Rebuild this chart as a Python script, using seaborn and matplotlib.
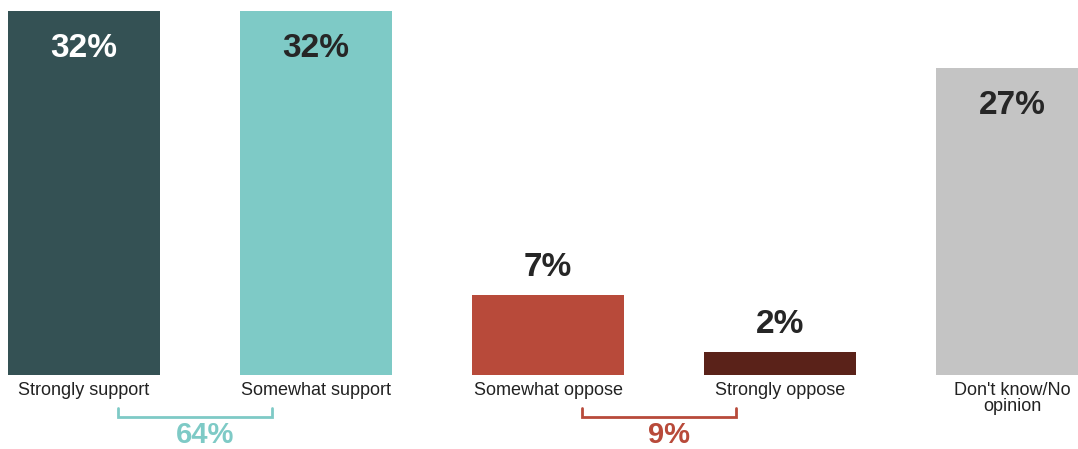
import matplotlib
matplotlib.use("Agg")
import matplotlib.pyplot as plt
import matplotlib.transforms as mtransforms
import pandas as pd
import seaborn as sns

# chart data
categories = ["Strongly support", "Somewhat support", "Somewhat oppose",
              "Strongly oppose", "Don't know/No\nopinion"]
values = [32, 32, 7, 2, 27]
bar_colors = ["#345154", "#7ECAC6", "#B84A3A", "#5A2219", "#C4C4C4"]
net_labels = ["64%", "9%"]
net_colors = ["#7ECAC6", "#B84A3A"]
net_start = [0, 2]   # bracket sits between bar i and bar i+1

sns.set_theme(style="white")
plt.rcParams["font.family"] = ["Liberation Sans", "DejaVu Sans"]

df = pd.DataFrame({"category": categories, "value": values})

fig = plt.figure(figsize=(10.78, 4.49), dpi=100)
ax = fig.add_axes([0.0, 0.1648, 1.0, 0.8107])

sns.barplot(data=df, x="category", y="value", hue="category",
            palette=bar_colors, width=0.655, dodge=False, legend=False,
            saturation=1, linewidth=0, ax=ax)

ax.set_xlim(-0.362, 4.284)
ax.set_ylim(0, 32)
ax.set_xlabel("")
ax.set_ylabel("")
ax.set_yticks([])
sns.despine(ax=ax, left=True, bottom=True, top=True, right=True)
ax.tick_params(axis="x", length=0, pad=5, labelsize=13, colors="#222222")
for lab in ax.get_xticklabels():
    lab.set_linespacing(0.9)

# value labels: inside for tall bars, above for short
for i, v in enumerate(values):
    if v > 20:
        col = "white" if i == 0 else "#262626"
        ax.annotate(f"{v}%", (i, v), xytext=(0, -27), textcoords="offset points",
                    ha="center", va="center", fontsize=24, fontweight="bold", color=col)
    else:
        ax.annotate(f"{v}%", (i, v), xytext=(0, 20), textcoords="offset points",
                    ha="center", va="center", fontsize=24, fontweight="bold", color="#262626")

# net brackets under the labels
trans = mtransforms.blended_transform_factory(ax.transData, ax.transAxes)
for s, lbl, col in zip(net_start, net_labels, net_colors):
    x0, x1 = s + 0.147, s + 0.81
    ax.plot([x0, x0, x1, x1], [-0.092, -0.116, -0.116, -0.092], color=col, lw=2,
            transform=trans, clip_on=False, solid_joinstyle="miter")
    ax.text(s + 0.52, -0.166, lbl, transform=trans, ha="center", va="center",
            fontsize=21, fontweight="bold", color=col)

fig.savefig("out.png", dpi=100)
